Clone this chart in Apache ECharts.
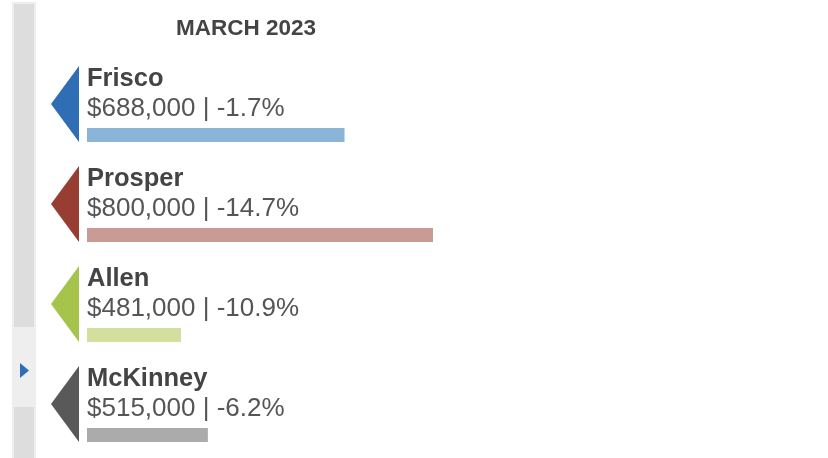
<!DOCTYPE html>
<html>
<head>
<meta charset="utf-8">
<script src="https://cdn.jsdelivr.net/npm/echarts@6/dist/echarts.min.js"></script>
<style>html,body{margin:0;padding:0;background:#fff}#c{width:828px;height:458px}</style>
</head>
<body>
<div id="c"></div>
<script>
const titleText = 'MARCH 2023';
const cities = ['Frisco', 'Prosper', 'Allen', 'McKinney'];
const prices = [688000, 800000, 481000, 515000];
const changes = [-1.7, -14.7, -10.9, -6.2];
const markColors = ['#2F6DB5', '#973D31', '#A6C34C', '#595959'];
const barColors = ['#8BB5D8', '#C89B94', '#D3DF9E', '#ABABAB'];
const X_MIN = 362000, X_MAX = 900000;

const chart = echarts.init(document.getElementById('c'), null, {renderer: 'canvas'});
const fmtPrice = v => '$' + v.toLocaleString('en-US');
const data = cities.map((c, i) => [i, prices[i], changes[i]]);

chart.setOption({
  animation: false,
  backgroundColor: '#fff',
  title: {
    text: titleText, left: 171, top: 12,
    textStyle: {fontFamily: 'Liberation Sans, Arial', fontSize: 22.5, fontWeight: 'bold', color: '#444'}
  },
  grid: {left: 87, right: 316, top: 54, height: 400},
  xAxis: {type: 'value', min: X_MIN, max: X_MAX, show: false},
  yAxis: {type: 'category', data: cities, inverse: true, show: false},
  graphic: [
    {type: 'rect', shape: {x: 12, y: 2, width: 24, height: 460}, style: {fill: '#eeeeee'}, silent: true},
    {type: 'rect', shape: {x: 14, y: 4, width: 20, height: 460}, style: {fill: '#dddddd'}, silent: true},
    {type: 'rect', shape: {x: 12, y: 327, width: 24, height: 80}, style: {fill: '#eeeeee'}, silent: true},
    {type: 'polygon', shape: {points: [[20, 363], [29, 370.5], [20, 378]]}, style: {fill: '#2F6DB5'}, silent: true}
  ],
  series: [{
    type: 'custom',
    data: data,
    encode: {x: 1, y: 0},
    renderItem: function (params, api) {
      const i = api.value(0);
      const start = api.coord([X_MIN, i]);
      const end = api.coord([api.value(1), i]);
      const cy = start[1];
      const x0 = start[0];
      return {
        type: 'group',
        children: [
          {type: 'polygon', shape: {points: [[x0 - 36, cy], [x0 - 8, cy - 38], [x0 - 8, cy + 38]]},
           style: {fill: markColors[i]}},
          {type: 'rect', shape: {x: x0, y: cy + 24, width: end[0] - x0, height: 14},
           style: {fill: barColors[i]}},
          {type: 'text', x: x0, y: cy - 38,
           style: {text: cities[i], fill: '#444', font: 'bold 25.5px "Liberation Sans", Arial', verticalAlign: 'top', align: 'left'}},
          {type: 'text', x: x0, y: cy - 8,
           style: {text: fmtPrice(api.value(1)) + ' | ' + api.value(2).toFixed(1) + '%', fill: '#555', font: '26px "Liberation Sans", Arial', verticalAlign: 'top', align: 'left'}}
        ]
      };
    }
  }]
});
</script>
</body>
</html>
